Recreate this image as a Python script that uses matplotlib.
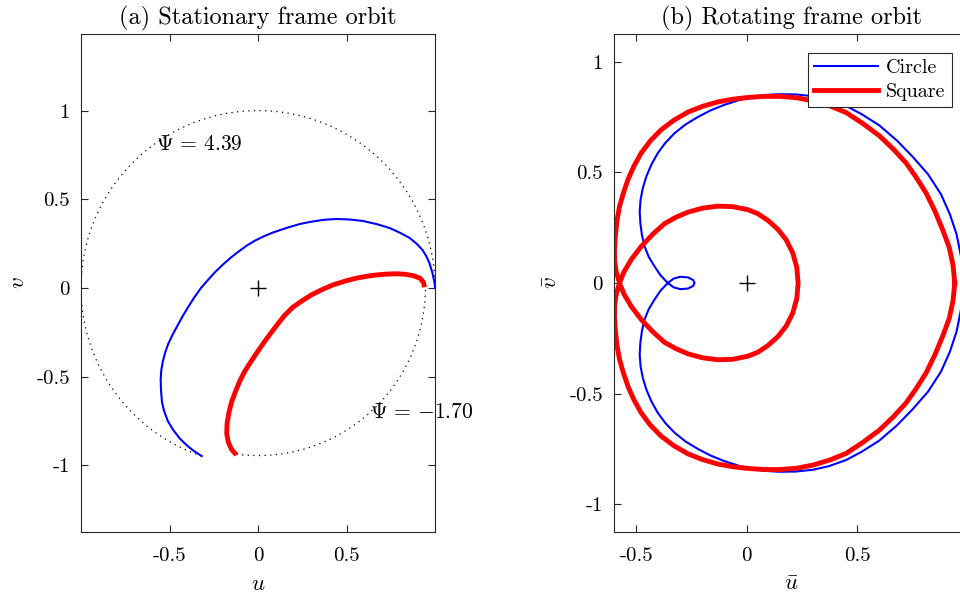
import numpy as np
import matplotlib
matplotlib.use("Agg")
from matplotlib import pyplot as plt

# Stationary frame orbit
circle_u_stat = [1.000, 0.997, 0.985, 0.968, 0.950, 0.929, 0.895, 0.856, 0.800, 0.743,
                 0.670, 0.590, 0.515, 0.444, 0.370, 0.292, 0.235, 0.179, 0.130, 0.083,
                 0.030, -0.015, -0.060, -0.105, -0.150, -0.195, -0.240, -0.282, -0.322, -0.360,
                 -0.395, -0.428, -0.458, -0.484, -0.507, -0.525, -0.538, -0.547, -0.550, -0.548,
                 -0.543, -0.532, -0.510, -0.479, -0.443, -0.404, -0.362, -0.318]
circle_v_stat = [0.000, 0.028, 0.085, 0.141, 0.180, 0.214, 0.250, 0.282, 0.312, 0.338,
                 0.360, 0.378, 0.386, 0.389, 0.384, 0.372, 0.360, 0.344, 0.328, 0.312,
                 0.290, 0.268, 0.241, 0.209, 0.174, 0.135, 0.092, 0.046, 0.000, -0.053,
                 -0.108, -0.163, -0.218, -0.266, -0.315, -0.365, -0.415, -0.467, -0.519, -0.580,
                 -0.640, -0.690, -0.750, -0.801, -0.848, -0.886, -0.920, -0.948]
square_u_stat = [0.940, 0.935, 0.915, 0.874, 0.830, 0.781, 0.725, 0.668, 0.610, 0.555,
                 0.490, 0.423, 0.360, 0.300, 0.245, 0.195, 0.150, 0.110, 0.072, 0.035,
                 -0.002, -0.040, -0.075, -0.103, -0.128, -0.150, -0.165, -0.175, -0.177, -0.168,
                 -0.150, -0.122]
square_v_stat = [0.004, 0.030, 0.055, 0.070, 0.077, 0.080, 0.078, 0.073, 0.065, 0.055,
                 0.038, 0.017, -0.010, -0.040, -0.075, -0.110, -0.155, -0.205, -0.255, -0.305,
                 -0.358, -0.415, -0.470, -0.525, -0.585, -0.645, -0.705, -0.765, -0.820, -0.870,
                 -0.910, -0.942]

# Rotating frame orbit
circle_u_rot = [0.975, 0.968, 0.948, 0.918, 0.878, 0.820, 0.750, 0.680, 0.599, 0.520,
                0.449, 0.370, 0.298, 0.220, 0.150, 0.080, 0.035, -0.035, -0.101, -0.163,
                -0.221, -0.277, -0.327, -0.368, -0.402, -0.431, -0.454, -0.470, -0.480, -0.484,
                -0.481, -0.474, -0.462, -0.443, -0.417, -0.390, -0.357,
                -0.330, -0.300, -0.265, -0.242, -0.236, -0.242, -0.265, -0.300, -0.330, -0.357,
                -0.390, -0.417, -0.443, -0.462, -0.474, -0.481, -0.484, -0.480, -0.470, -0.454,
                -0.431, -0.402, -0.368, -0.327, -0.277, -0.221, -0.163, -0.101, -0.035, 0.035,
                0.080, 0.150, 0.220, 0.298, 0.370, 0.449, 0.520, 0.599, 0.680, 0.750,
                0.820, 0.878, 0.918, 0.948, 0.968, 0.975]
circle_v_rot = [0.000, 0.120, 0.220, 0.310, 0.400, 0.490, 0.570, 0.642, 0.712, 0.762,
                0.800, 0.828, 0.844, 0.852, 0.853, 0.849, 0.842, 0.826, 0.805, 0.780,
                0.750, 0.716, 0.676, 0.633, 0.587, 0.535, 0.481, 0.428, 0.376, 0.322,
                0.271, 0.218, 0.165, 0.118, 0.075, 0.035, 0.000,
                -0.020, -0.028, -0.025, -0.013, 0.000, 0.013, 0.025, 0.028, 0.020, 0.000,
                -0.035, -0.075, -0.118, -0.165, -0.218, -0.271, -0.322, -0.376, -0.428, -0.481,
                -0.535, -0.587, -0.633, -0.676, -0.716, -0.750, -0.780, -0.805, -0.826, -0.842,
                -0.849, -0.853, -0.852, -0.844, -0.828, -0.800, -0.762, -0.712, -0.642, -0.570,
                -0.490, -0.400, -0.310, -0.220, -0.120, 0.000]
square_u_rot = [0.940, 0.932, 0.915, 0.885, 0.850, 0.810, 0.765, 0.720, 0.662, 0.599,
                0.525, 0.449, 0.375, 0.298, 0.225, 0.150, 0.075, 0.005, -0.065, -0.131,
                -0.200, -0.266, -0.330, -0.387, -0.436, -0.477, -0.510, -0.537, -0.558, -0.575,
                -0.587, -0.594, -0.598, -0.597, -0.590, -0.575,
                -0.555, -0.522, -0.477, -0.425, -0.372, -0.320, -0.266, -0.200, -0.131, -0.065,
                0.005, 0.050, 0.095, 0.140, 0.178, 0.208, 0.226, 0.232,
                0.226, 0.208, 0.178, 0.140, 0.095, 0.050, 0.005, -0.065, -0.131, -0.200,
                -0.266, -0.320, -0.372, -0.425, -0.477, -0.522, -0.555, -0.575,
                -0.590, -0.597, -0.598, -0.594, -0.587, -0.575, -0.558, -0.537, -0.510, -0.477,
                -0.436, -0.387, -0.330, -0.266, -0.200, -0.131, -0.065, 0.005, 0.075, 0.150,
                0.225, 0.298, 0.375, 0.449, 0.525, 0.599, 0.662, 0.720, 0.765, 0.810,
                0.850, 0.885, 0.915, 0.932, 0.940]
square_v_rot = [0.000, 0.080, 0.160, 0.241, 0.325, 0.407, 0.478, 0.542, 0.605, 0.665,
                0.720, 0.770, 0.800, 0.823, 0.837, 0.843, 0.843, 0.838, 0.830, 0.818,
                0.798, 0.772, 0.735, 0.692, 0.642, 0.587, 0.528, 0.467, 0.405, 0.346,
                0.280, 0.211, 0.150, 0.100, 0.050, 0.000,
                -0.050, -0.106, -0.165, -0.220, -0.268, -0.297, -0.320, -0.338, -0.347, -0.345,
                -0.331, -0.313, -0.283, -0.243, -0.195, -0.135, -0.070, 0.000,
                0.070, 0.135, 0.195, 0.243, 0.283, 0.313, 0.331, 0.345, 0.347, 0.338,
                0.320, 0.297, 0.268, 0.220, 0.165, 0.106, 0.050, 0.000,
                -0.050, -0.100, -0.150, -0.211, -0.280, -0.346, -0.405, -0.467, -0.528, -0.587,
                -0.642, -0.692, -0.735, -0.772, -0.798, -0.818, -0.830, -0.838, -0.843, -0.843,
                -0.837, -0.823, -0.800, -0.770, -0.720, -0.665, -0.605, -0.542, -0.478, -0.407,
                -0.325, -0.241, -0.160, -0.080, 0.000]

# End angles of the two orbits and the radii of the dotted guide arcs
psi_circle = 4.39
psi_square = -1.70
r_circle = 1.0
r_square = 0.945

ticks = [-1, -0.5, 0, 0.5, 1]
tick_labels = ['-1', '-0.5', '0', '0.5', '1']

plt.rcParams['font.family'] = 'serif'
plt.rcParams['font.serif'] = ['cmr10']
plt.rcParams['mathtext.fontset'] = 'cm'
plt.rcParams['axes.formatter.use_mathtext'] = True

edge = '0.15'
fig = plt.figure(figsize=(9.6, 5.99), dpi=100)
ax1 = fig.add_axes([0.0844, 0.1119, 0.3688, 0.8314])
ax2 = fig.add_axes([0.6396, 0.1119, 0.3688, 0.8314])

# Dotted guide arcs
th1 = np.linspace(0, psi_circle, 300)
th2 = np.linspace(psi_square, 0, 120)
ax1.plot(r_circle * np.cos(th1), r_circle * np.sin(th1), color='black', lw=0.9, ls=(0, (1, 3.5)))
ax1.plot(r_square * np.cos(th2), r_square * np.sin(th2), color='black', lw=0.9, ls=(0, (1, 3.5)))

ax1.plot(circle_u_stat, circle_v_stat, color='blue', lw=1.5, solid_joinstyle='round')
ax1.plot(square_u_stat, square_v_stat, color='red', lw=3.5, solid_capstyle='butt', solid_joinstyle='round')
ax1.plot(0, 0, '+', color='black', ms=11, mew=1.0)
ax1.text(-0.575, 0.81, r'$\Psi\,=\,%.2f$' % psi_circle, fontsize=15.5, ha='left', va='center')
ax1.text(0.63, -0.70, r'$\Psi\,=\,{-}%.2f$' % abs(psi_square), fontsize=15.5, ha='left', va='center', clip_on=False)
ax1.set_xlim(-1.0, 1.0)
ax1.set_ylim(-1.376, 1.432)
ax1.set_title('(a) Stationary frame orbit', fontsize=17.5, pad=7)
ax1.set_xlabel('$u$', fontsize=16.5, labelpad=7)
ax1.set_ylabel('$v$', fontsize=16.5, labelpad=6)
ax1.set_xticks([-0.5, 0, 0.5])
ax1.set_xticklabels(['-0.5', '0', '0.5'])
ax1.set_yticks(ticks)
ax1.set_yticklabels(tick_labels)

ax2.plot(circle_u_rot, circle_v_rot, color='blue', lw=1.5, solid_joinstyle='round', label='Circle')
ax2.plot(square_u_rot, square_v_rot, color='red', lw=3.5, solid_joinstyle='round', label='Square')
ax2.plot(0, 0, '+', color='black', ms=11, mew=1.0)
ax2.set_xlim(-0.6, 1.0)
ax2.set_ylim(-1.125, 1.125)
ax2.set_title('(b) Rotating frame orbit', fontsize=17.5, pad=7)
ax2.set_xlabel(r'$\bar{u}$', fontsize=16.5, labelpad=7)
ax2.set_ylabel(r'$\bar{v}$', fontsize=16.5, labelpad=6)
ax2.set_xticks([-0.5, 0, 0.5])
ax2.set_xticklabels(['-0.5', '0', '0.5'])
ax2.set_yticks(ticks)
ax2.set_yticklabels(tick_labels)
leg = ax2.legend(loc='upper right', bbox_to_anchor=(0.9914, 0.9115), bbox_transform=fig.transFigure,
                 fontsize=14.5, fancybox=False, edgecolor=edge, framealpha=1, handlelength=3.2,
                 borderpad=0.3, labelspacing=0.3, handletextpad=0.4, borderaxespad=0)
leg.get_frame().set_linewidth(0.8)

for ax in (ax1, ax2):
    for s in ax.spines.values():
        s.set_color(edge)
        s.set_linewidth(0.8)
    ax.tick_params(direction='in', length=5, width=0.8, color=edge, labelsize=15,
                   top=True, right=True)
    ax.tick_params(axis='x', pad=11)
    ax.tick_params(axis='y', pad=8)

fig.savefig('out.png', dpi=100)
